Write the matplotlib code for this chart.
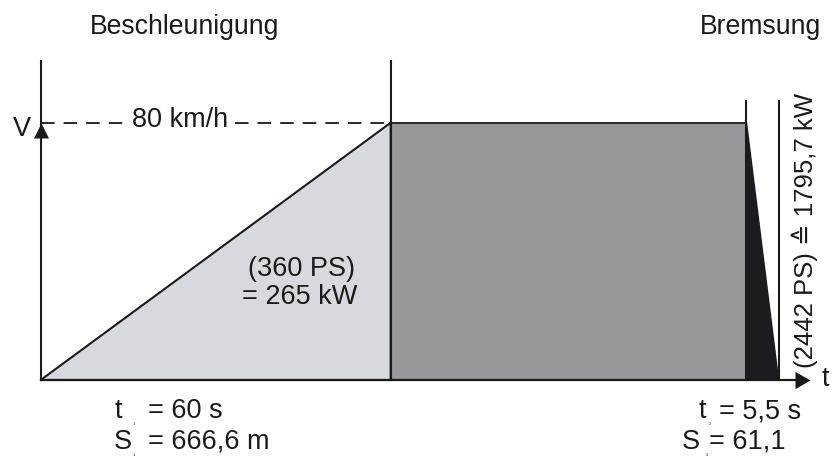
import matplotlib
matplotlib.use("Agg")
import matplotlib.pyplot as plt
from matplotlib.patches import Polygon

# ---- data ----
phase_times = [60, 61, 5.5]          # accel, constant, braking duration (s)
v_max = 80                           # km/h
phase_labels = ["Beschleunigung", "Bremsung"]
speed_label = "80 km/h"
accel_power = ["(360 PS)", "= 265 kW"]
brake_power = "(2442 PS) \u2259 1795,7 kW"
accel_stats = ["= 60 s", "= 666,6 m"]
brake_stats = ["= 5,5 s", "= 61,1"]

W, H = 839, 457
fig = plt.figure(figsize=(W / 100, H / 100), dpi=100)
ax = fig.add_axes([0, 0, 1, 1])
ax.set_axis_off()

# pixel geometry of axis frame (origin at x=40.7, y=380 px)
x0_px, y0_px = 40.7, 380.0
px_per_s = 5.833
px_per_v = 3.216
ax.set_xlim(-x0_px / px_per_s, (W - x0_px) / px_per_s)
ax.set_ylim(-(H - y0_px) / px_per_v, y0_px / px_per_v)

t1 = phase_times[0]
t2 = t1 + phase_times[1]
t3 = t2 + phase_times[2]

light = "#d6d9dd"
dark = "#98979c"
black = "#1c1b20"
lc = "#1a1a1a"

# areas
ax.add_patch(Polygon([(0, 0), (t1, v_max), (t1, 0)], closed=True,
                     facecolor=light, edgecolor=lc, lw=1.5, zorder=2))
ax.add_patch(Polygon([(t1, 0), (t1, v_max), (t2, v_max), (t2, 0)], closed=True,
                     facecolor=dark, edgecolor=lc, lw=1.3, zorder=2))
ax.add_patch(Polygon([(t2, 0), (t2, v_max), (t3, 0)], closed=True,
                     facecolor=black, edgecolor=black, lw=1.0, zorder=3))

# axes lines
top_v = (y0_px - 61) / px_per_v
top_b = (y0_px - 100.7) / px_per_v
t_end = (810 - x0_px) / px_per_s
ax.plot([0, 0], [0, top_v], color=lc, lw=1.5, zorder=4)
ax.plot([t1, t1], [0, top_v], color=lc, lw=1.5, zorder=4)
ax.plot([t2, t2], [0, top_b], color=lc, lw=1.5, zorder=4)
ax.plot([t3, t3], [0, top_b], color=lc, lw=1.5, zorder=4)
ax.plot([0, t_end - 1], [0, 0], color=lc, lw=1.6, zorder=4)

# arrow heads (tip at anchor point)
up_marker = [(0, 0), (-0.5, -1), (0.5, -1), (0, 0)]
right_marker = [(0, 0), (-0.87, 0.5), (-0.87, -0.5), (0, 0)]
ms = 15 * 72 / 100 * 2  # 15 px
ax.plot([0], [v_max], marker=up_marker, ms=ms, color=lc, mew=0, zorder=5)
ax.plot([t_end], [0], marker=right_marker, ms=ms, color=lc, mew=0, zorder=5)

# dashed speed line
ax.plot([0, 15.0], [v_max, v_max], color=lc, lw=1.3, ls=(0, (7.5, 5)), zorder=4)
ax.plot([33.3, t1], [v_max, v_max], color=lc, lw=1.3, ls=(0, (7.5, 5)), zorder=4)

fam = ["Liberation Sans", "DejaVu Sans"]
fs = 19.5
tc = "#1a1a1a"


def px(x, y):
    return x / W, 1 - y / H


def txt(x, y, s, size=fs, ha="center", va="center", **kw):
    fig.text(*px(x, y), s, fontsize=size, ha=ha, va=va, family=fam,
             color=tc, **kw)


txt(185, 27, phase_labels[0], size=19.2)
txt(761, 27, phase_labels[1], size=19.2)
txt(22, 129, "V")
txt(180, 120, speed_label)
txt(301, 269, accel_power[0])
txt(300, 297, accel_power[1])
txt(805, 231, brake_power, rotation=90, size=18.5)
txt(825, 379, "t")

# bottom stats
txt(115, 411, "t", ha="left")
txt(134, 424, "1", size=3)
txt(148, 411, accel_stats[0], ha="left")
txt(114, 442, "S", ha="left")
txt(134, 455, "1", size=3)
txt(148, 442, accel_stats[1], ha="left")

txt(699, 411, "t", ha="left")
txt(710, 424, "2", size=3)
txt(719, 411, brake_stats[0], ha="left")
txt(682, 442, "S", ha="left")
txt(707, 455, "2", size=3)
txt(709, 442, brake_stats[1], ha="left")

fig.savefig("out.png", dpi=100)
